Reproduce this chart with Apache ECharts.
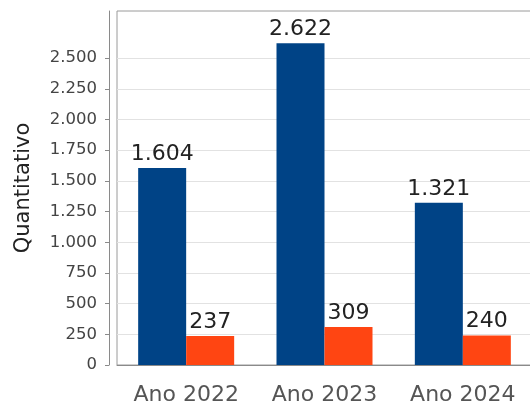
<!DOCTYPE html>
<html>
<head>
<meta charset="utf-8">
<script src="https://cdn.jsdelivr.net/npm/echarts@6/dist/echarts.min.js"></script>
<style>
  html, body { margin: 0; padding: 0; background: #fff; }
  #chart { width: 530px; height: 405px; }
</style>
</head>
<body>
<div id="chart"></div>
<script>
// Yearly counts, two series per year
const categories = ['Ano 2022', 'Ano 2023', 'Ano 2024'];
const seriesBlue = [1604, 2622, 1321];
const seriesOrange = [237, 309, 240];
const yTicks = [0, 250, 500, 750, 1000, 1250, 1500, 1750, 2000, 2250, 2500];
const yMax = 2884;

// Thousands separator as a dot
function fmt(v) {
  return String(v).replace(/\B(?=(\d{3})+(?!\d))/g, '.');
}

const FONT = 'DejaVu Sans';

const chart = echarts.init(document.getElementById('chart'), null, { renderer: 'canvas' });

chart.setOption({
  animation: false,
  backgroundColor: '#ffffff',
  grid: {
    left: 117, top: 11, width: 415, bottom: 40,
    outerBoundsMode: 'none',
    containLabel: false,
    show: true, borderColor: '#9a9a9a', borderWidth: 1, backgroundColor: '#ffffff'
  },
  xAxis: {
    type: 'category',
    data: categories,
    offset: 8,
    axisLine: { lineStyle: { color: '#8a8a8a', width: 1 } },
    axisTick: { show: false },
    axisLabel: {
      interval: 0, hideOverlap: false,
      color: '#555555', fontFamily: FONT, fontSize: 22, margin: 11
    }
  },
  yAxis: {
    type: 'value',
    min: 0,
    max: yMax,
    interval: 250,
    offset: 8,
    name: 'Quantitativo',
    nameLocation: 'middle',
    nameGap: 75,
    nameTextStyle: { color: '#222222', fontFamily: FONT, fontSize: 21 },
    axisLine: { show: true, lineStyle: { color: '#8a8a8a', width: 1 } },
    axisTick: { show: true, length: 4, customValues: yTicks, lineStyle: { color: '#8a8a8a' } },
    axisLabel: {
      customValues: yTicks,
      color: '#444444', fontFamily: FONT, fontSize: 16.5, margin: 12,
      formatter: v => fmt(v)
    },
    splitLine: { show: false }
  },
  series: [
    {
      // horizontal grid lines at the labelled ticks, kept behind the bars
      type: 'line',
      data: [],
      z: 1,
      silent: true,
      markLine: {
        z: 1,
        silent: true,
        symbol: 'none',
        label: { show: false },
        lineStyle: { color: '#e2e2e2', width: 1, type: 'solid' },
        data: yTicks.slice(1).map(v => ({ yAxis: v }))
      }
    },
    {
      name: 'A',
      type: 'bar',
      z: 3,
      data: seriesBlue,
      barWidth: 48,
      barGap: '0%',
      itemStyle: { color: '#004386' },
      label: {
        show: true, position: 'top', distance: 3,
        color: '#222222', fontFamily: FONT, fontSize: 22,
        formatter: p => fmt(p.value)
      }
    },
    {
      name: 'B',
      type: 'bar',
      z: 3,
      data: seriesOrange,
      barWidth: 48,
      barGap: '0%',
      itemStyle: { color: '#ff4512' },
      label: {
        show: true, position: 'top', distance: 3,
        color: '#222222', fontFamily: FONT, fontSize: 22,
        formatter: p => fmt(p.value)
      }
    }
  ]
});
</script>
</body>
</html>
